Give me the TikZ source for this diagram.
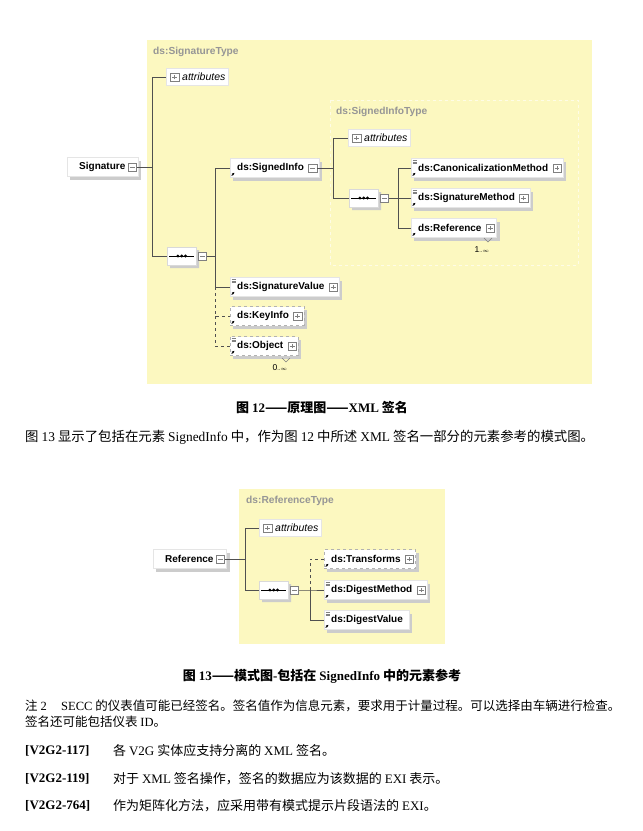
\documentclass[tikz,border=0pt]{standalone}
\usepackage{fontspec}
\setmainfont{Liberation Serif}
\setsansfont{Liberation Sans}
\newfontfamily\cjk{Noto Sans CJK SC}
\usetikzlibrary{shapes.misc, shadows, arrows.meta, positioning, calc}
\definecolor{typebg}{RGB}{252,248,192}
\definecolor{typetext}{RGB}{150,150,150}
\definecolor{wire}{RGB}{80,80,80}
\newcommand{\tn}[1]{{\rmfamily #1}}
\tikzset{
typebox/.style = {fill=typebg},
subtypebox/.style = {draw=white!60!typebg, dashed, fill=typebg},
typelabel/.style = {anchor=west, inner sep=0pt, font=\sffamily\bfseries\fontsize{10.2}{11}\selectfont, text=typetext},
elem/.style = {rectangle, anchor=west, fill=white, draw=gray!20, minimum height=19pt, inner xsep=3pt, inner ysep=0pt, font=\sffamily\bfseries\fontsize{10}{10}\selectfont, drop shadow={shadow xshift=3pt, shadow yshift=-3pt, fill=gray!40, opacity=1}, execute at begin node=\hspace{4pt}},
expand/.style = {execute at end node=\hspace{12pt}},
optional/.style = {draw=gray!60, dashed},
refmark/.style = {path picture={
  \draw[draw=black, solid, line width=0.9pt, -{Stealth[length=2.2pt, width=2.6pt]}] ([shift={(1.5pt,2pt)}]path picture bounding box.south west) -- ++(2.6pt,2.6pt);}},
simplemark/.style = {path picture={
  \draw[draw=black, solid, line width=0.9pt, -{Stealth[length=2.2pt, width=2.6pt]}] ([shift={(1.5pt,2pt)}]path picture bounding box.south west) -- ++(2.6pt,2.6pt);
  \draw[draw=gray, solid, line width=0.5pt] ([shift={(1.5pt,-2pt)}]path picture bounding box.north west) -- ++(4pt,0pt)
    ([shift={(1.5pt,-3.6pt)}]path picture bounding box.north west) -- ++(4pt,0pt)
    ([shift={(1.5pt,-5.2pt)}]path picture bounding box.north west) -- ++(4pt,0pt);}},
rootelem/.style = {elem, execute at begin node=\hspace{5pt}, execute at end node=\hspace{10pt}},
attrbox/.style = {rectangle, anchor=west, fill=white, draw=gray!20, minimum height=17pt, inner xsep=3pt, inner ysep=0pt, font=\sffamily\itshape\fontsize{10.5}{11}\selectfont, execute at begin node=\hspace{13pt}},
seqbox/.style = {chamfered rectangle, chamfered rectangle xsep=5pt, anchor=west, fill=white, draw=gray!30, minimum width=29pt, minimum height=18pt, inner sep=0pt,
  drop shadow={shadow xshift=3pt, shadow yshift=-3pt, fill=gray!40, opacity=1},
  path picture={
  \draw[draw=black, line width=0.6pt] ([xshift=2pt]path picture bounding box.west) -- ([xshift=-2pt]path picture bounding box.east);
  \foreach \k in {-3.8,0,3.8}
    \fill[fill=black] ([xshift=\k pt]path picture bounding box.center) circle (1.6pt);}},
pmbox/.style = {rectangle, solid, draw=gray, fill=white, minimum size=8.5pt, inner sep=0pt},
minusbox/.style = {pmbox, path picture={
  \draw[gray] ([xshift=1.8pt]path picture bounding box.west) -- ([xshift=-1.8pt]path picture bounding box.east);}},
plusbox/.style = {pmbox, path picture={
  \draw[gray] ([xshift=1.8pt]path picture bounding box.west) -- ([xshift=-1.8pt]path picture bounding box.east)
    ([yshift=1.8pt]path picture bounding box.south) -- ([yshift=-1.8pt]path picture bounding box.north);}},
conn/.style = {draw=wire, line width=0.6pt},
optconn/.style = {conn, dashed},
chev/.style = {draw=gray, line width=0.5pt},
mult/.style = {inner sep=0pt, font=\sffamily\fontsize{8.5}{9}\selectfont},
body/.style = {anchor=west, inner sep=0pt, font=\cjk\fontsize{13}{15}\selectfont},
notetext/.style = {anchor=west, inner sep=0pt, font=\cjk\fontsize{12.5}{15}\selectfont},
captiontext/.style = {inner sep=0pt, font=\cjk\bfseries\fontsize{13}{15}\selectfont},
reqid/.style = {anchor=west, inner sep=0pt, font=\rmfamily\bfseries\fontsize{13}{15}\selectfont}
}
\begin{document}
\begin{tikzpicture}[x=1pt, y=-1pt]
\fill[white] (0,0) rectangle (643,831);
\useasboundingbox (0,0) rectangle (643,831);

% Figure 12: ds:SignatureType
\path[typebox] (147,40) rectangle (592,384);
\node (sigtype) [typelabel] at (153,52) {ds:SignatureType};
\path[subtypebox] (330,100) rectangle (578,265);
\node (sitype) [typelabel] at (336,112) {ds:SignedInfoType};

\node (sig) [rootelem] at (67,167) {Signature};
\node (sig-m) [minusbox, left=2pt of sig.east] {};
\node (attr1) [attrbox] at (166,77) {attributes};
\node (attr1-p) [plusbox, right=4pt of attr1.west] {};
\node (seq1) [seqbox] at (167,256) {};
\node (seq1-m) [minusbox, right=1.5pt of seq1.east] {};

\node (si) [elem, expand, refmark] at (230,168) {ds:SignedInfo};
\node (si-m) [minusbox, left=2pt of si.east] {};
\node (sigval) [elem, expand, simplemark] at (230,287) {ds:SignatureValue};
\node (sigval-p) [plusbox, left=2pt of sigval.east] {};
\node (ki) [elem, expand, optional, refmark] at (230,316) {ds:KeyInfo};
\node (ki-p) [plusbox, left=2pt of ki.east] {};
\node (obj) [elem, expand, optional, simplemark] at (230,346) {ds:Object};
\node (obj-p) [plusbox, left=2pt of obj.east] {};
\node (obj-n) [mult] at (280,368) {0\fontsize{5.5}{6}\selectfont..$\infty$};
\draw[chev] (282,358) -- (286,362) -- (290,358);

\node (attr2) [attrbox] at (348,138) {attributes};
\node (attr2-p) [plusbox, right=4pt of attr2.west] {};
\node (seq2) [seqbox] at (349,198) {};
\node (seq2-m) [minusbox, right=1.5pt of seq2.east] {};
\node (canon) [elem, expand, simplemark] at (411,168) {ds:CanonicalizationMethod};
\node (canon-p) [plusbox, left=2pt of canon.east] {};
\node (sigmeth) [elem, expand, simplemark] at (411,198) {ds:SignatureMethod};
\node (sigmeth-p) [plusbox, left=2pt of sigmeth.east] {};
\node (ref) [elem, expand, refmark] at (411,228) {ds:Reference};
\node (ref-p) [plusbox, left=2pt of ref.east] {};
\node (ref-n) [mult] at (482,250) {1\fontsize{5.5}{6}\selectfont..$\infty$};
\draw[chev] (484,238) -- (488,242) -- (492,238);

\coordinate (t1) at (152,167);
\coordinate (t2) at (215,256);
\coordinate (t3) at (333,168);
\coordinate (t4) at (398,198);
\draw[conn] (sig-m.east) -- (t1) |- (attr1.west);
\draw[conn] (t1) |- (seq1.west);
\draw[conn] (seq1-m.east) -- (t2) |- (si.west);
\draw[conn] (t2) |- (sigval.west);
\draw[optconn] (t2 |- sigval.west) |- (ki.west);
\draw[optconn] (t2 |- ki.west) |- (obj.west);
\draw[conn] (si-m.east) -- (t3) |- (attr2.west);
\draw[conn] (t3) |- (seq2.west);
\draw[conn] (seq2-m.east) -- (t4) |- (canon.west);
\draw[conn] (t4) -- (sigmeth.west);
\draw[conn] (t4) |- (ref.west);

\node (cap1) [captiontext] at (322,407) {图 \tn{12}——原理图——\tn{XML} 签名};
\node (para) [body, font=\cjk\fontsize{13.4}{15}\selectfont] at (25,437) {图 \tn{13} 显示了包括在元素 \tn{SignedInfo} 中，作为图 \tn{12} 中所述 \tn{XML} 签名一部分的元素参考的模式图。};

% Figure 13: ds:ReferenceType
\path[typebox] (239,489) rectangle (445,644);
\node (reftype) [typelabel] at (246,501) {ds:ReferenceType};
\node (refroot) [rootelem] at (153,559) {Reference};
\node (refroot-m) [minusbox, left=2pt of refroot.east] {};
\node (attr3) [attrbox] at (259,528) {attributes};
\node (attr3-p) [plusbox, right=4pt of attr3.west] {};
\node (seq3) [seqbox] at (259,590) {};
\node (seq3-m) [minusbox, right=1.5pt of seq3.east] {};
\node (tr) [elem, expand, optional, refmark] at (324,559) {ds:Transforms};
\node (tr-p) [plusbox, left=2pt of tr.east] {};
\node (dm) [elem, expand, simplemark] at (324,590) {ds:DigestMethod};
\node (dm-p) [plusbox, left=2pt of dm.east] {};
\node (dv) [elem, simplemark, execute at end node=\hspace{3pt}] at (324,620) {ds:DigestValue};

\coordinate (t5) at (245,559);
\coordinate (t6) at (310,590);
\draw[conn] (refroot-m.east) -- (t5) |- (attr3.west);
\draw[conn] (t5) |- (seq3.west);
\draw[optconn] (t6) |- (tr.west);
\draw[conn] (seq3-m.east) -- (t6) -- (dm.west);
\draw[conn] (t6) |- (dv.west);

\node (cap2) [captiontext] at (322,676) {图 \tn{13}——模式图\tn{-}包括在 \tn{SignedInfo} 中的元素参考};

% note and requirements
\node (note-l) [notetext] at (25,706) {注 \tn{2}};
\node (note-a) [notetext] at (61,706) {\tn{SECC} 的仪表值可能已经签名。签名值作为信息元素，要求用于计量过程。可以选择由车辆进行检查。};
\node (note-b) [notetext] at (25,722) {签名还可能包括仪表 \tn{ID}。};
\node (req1) [reqid] at (25,751) {[V2G2-117]};
\node (req1-t) [body] at (113,751) {各 \tn{V2G} 实体应支持分离的 \tn{XML} 签名。};
\node (req2) [reqid] at (25,779) {[V2G2-119]};
\node (req2-t) [body] at (113,779) {对于 \tn{XML} 签名操作，签名的数据应为该数据的 \tn{EXI} 表示。};
\node (req3) [reqid] at (25,806) {[V2G2-764]};
\node (req3-t) [body] at (113,806) {作为矩阵化方法，应采用带有模式提示片段语法的 \tn{EXI}。};
\end{tikzpicture}
\end{document}
